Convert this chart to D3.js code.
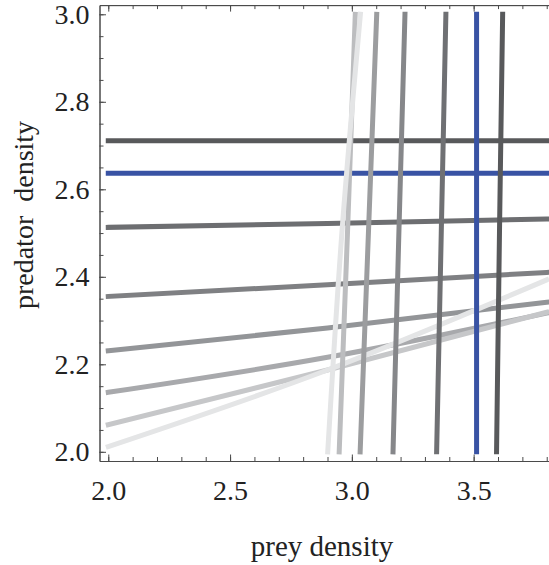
<!DOCTYPE html>
<html><head><meta charset="utf-8">
<script src="https://cdn.jsdelivr.net/npm/d3@7"></script>
<style>
body{margin:0;background:#fff}
text{font-family:"Liberation Serif","Times New Roman",serif;fill:#222}
.title{white-space:pre}
</style>
</head><body>
<svg id="chart" width="549" height="565"></svg>
<script>
// ---- data ----
// predator-type lines: y values read at these prey densities
const hAt = [2.0, 2.9, 3.8];
const hLine1 = [2.711, 2.711, 2.711];
const hLine2 = [2.6365, 2.6365, 2.6365];
const hLine3 = [2.513, 2.522, 2.532];
const hLine4 = [2.355, 2.382, 2.410];
const hLine5 = [2.231, 2.283, 2.342];
const hLine6 = [2.136, 2.216, 2.317];
const hLine7 = [2.062, 2.187, 2.319];
const hLine8 = [2.012, 2.187, 2.393];
const hColors = ["#58595b","#3953a4","#6d6e71","#7f8083","#939598","#a8a9ac","#c6c7c9","#e4e5e6"];

// prey-type lines: x values read at these predator densities
const vAt = [2.0, 2.5, 3.0];
const vLine1 = [3.594, 3.606, 3.619];
const vLine2 = [3.512, 3.512, 3.512];
const vLine3 = [3.348, 3.367, 3.386];
const vLine4 = [3.169, 3.193, 3.218];
const vLine5 = [3.034, 3.068, 3.102];
const vLine6 = [2.948, 2.982, 3.014];
const vLine7 = [2.901, 2.959, 3.035];
const vColors = ["#58595b","#3953a4","#6f7073","#86878a","#9c9d9f","#bcbdbf","#e4e5e6"];

const xMajor = [2.0, 2.5, 3.0, 3.5];
const xMinor = [2.0,2.1,2.2,2.3,2.4,2.5,2.6,2.7,2.8,2.9,3.0,3.1,3.2,3.3,3.4,3.5,3.6,3.7,3.8];
const yMajor = [2.0, 2.2, 2.4, 2.6, 2.8, 3.0];
const yMinor = [2.0,2.05,2.1,2.15,2.2,2.25,2.3,2.35,2.4,2.45,2.5,2.55,2.6,2.65,2.7,2.75,2.8,2.85,2.9,2.95,3.0];
const xTitle = "prey density";
const yTitle = "predator  density";

// ---- drawing ----
const svg = d3.select("#chart");
const L = 99.5, R = 555.5, T = 5.1, B = 461;
const x = d3.scaleLinear().domain([1.964, 3.836]).range([L, R]);
const y = d3.scaleLinear().domain([1.979, 3.021]).range([B, T]);

const hSeries = [hLine1,hLine2,hLine3,hLine4,hLine5,hLine6,hLine7,hLine8];
const vSeries = [vLine1,vLine2,vLine3,vLine4,vLine5,vLine6,vLine7];

const hGen = d3.line().x((d,i)=>x(hAt[i])).y(d=>y(d)).curve(d3.curveNatural);
const vGen = d3.line().x(d=>x(d)).y((d,i)=>y(vAt[i])).curve(d3.curveNatural);

const g = svg.append("g");
g.selectAll("path.h").data(hSeries).join("path").attr("class","h")
  .attr("d", hGen).attr("fill","none")
  .attr("stroke",(d,i)=>hColors[i]).attr("stroke-width",5).attr("stroke-linecap","square");
g.selectAll("path.v").data(vSeries).join("path").attr("class","v")
  .attr("d", vGen).attr("fill","none")
  .attr("stroke",(d,i)=>vColors[i]).attr("stroke-width",5).attr("stroke-linecap","square");

// axes (frame + inward ticks)
const fmt = d3.format(".1f");
const frameColor = "#4a4a4a";
const tickFont = 28;
function styleAxis(sel){
  sel.selectAll("path.domain").attr("stroke",frameColor).attr("stroke-width",1);
  sel.selectAll(".tick line").attr("stroke",frameColor).attr("stroke-width",1);
  sel.selectAll("text").attr("font-family",'"Liberation Serif","Times New Roman",serif')
     .attr("font-size",tickFont).attr("fill","#222");
}
const minorLen = -4, majorLen = -6.5;
// bottom
svg.append("g").attr("transform",`translate(0,${B})`)
  .call(d3.axisBottom(x).tickValues(xMinor).tickSize(minorLen).tickSizeOuter(0).tickFormat(""))
  .call(styleAxis);
svg.append("g").attr("transform",`translate(0,${B})`)
  .call(d3.axisBottom(x).tickValues(xMajor).tickSizeInner(majorLen).tickSizeOuter(0).tickPadding(19).tickFormat(fmt))
  .call(styleAxis);
// top
svg.append("g").attr("transform",`translate(0,${T})`)
  .call(d3.axisTop(x).tickValues(xMinor).tickSize(minorLen).tickSizeOuter(0).tickFormat(""))
  .call(styleAxis);
svg.append("g").attr("transform",`translate(0,${T})`)
  .call(d3.axisTop(x).tickValues(xMajor).tickSize(majorLen).tickSizeOuter(0).tickFormat(""))
  .call(styleAxis);
// left
svg.append("g").attr("transform",`translate(${L},0)`)
  .call(d3.axisLeft(y).tickValues(yMinor).tickSize(minorLen).tickSizeOuter(0).tickFormat(""))
  .call(styleAxis);
svg.append("g").attr("transform",`translate(${L},0)`)
  .call(d3.axisLeft(y).tickValues(yMajor).tickSizeInner(majorLen).tickSizeOuter(0).tickPadding(10).tickFormat(fmt))
  .call(styleAxis);
// right
svg.append("g").attr("transform",`translate(${R},0)`)
  .call(d3.axisRight(y).tickValues(yMinor).tickSize(minorLen).tickSizeOuter(0).tickFormat(""))
  .call(styleAxis);
svg.append("g").attr("transform",`translate(${R},0)`)
  .call(d3.axisRight(y).tickValues(yMajor).tickSize(majorLen).tickSizeOuter(0).tickFormat(""))
  .call(styleAxis);

// titles
svg.append("text").attr("class","title").attr("x",322).attr("y",556).attr("text-anchor","middle")
  .attr("font-size",29).text(xTitle);
svg.append("text").attr("class","title").attr("transform","translate(33,215) rotate(-90)").attr("text-anchor","middle")
  .attr("font-size",28).text(yTitle);
</script>
</body></html>
